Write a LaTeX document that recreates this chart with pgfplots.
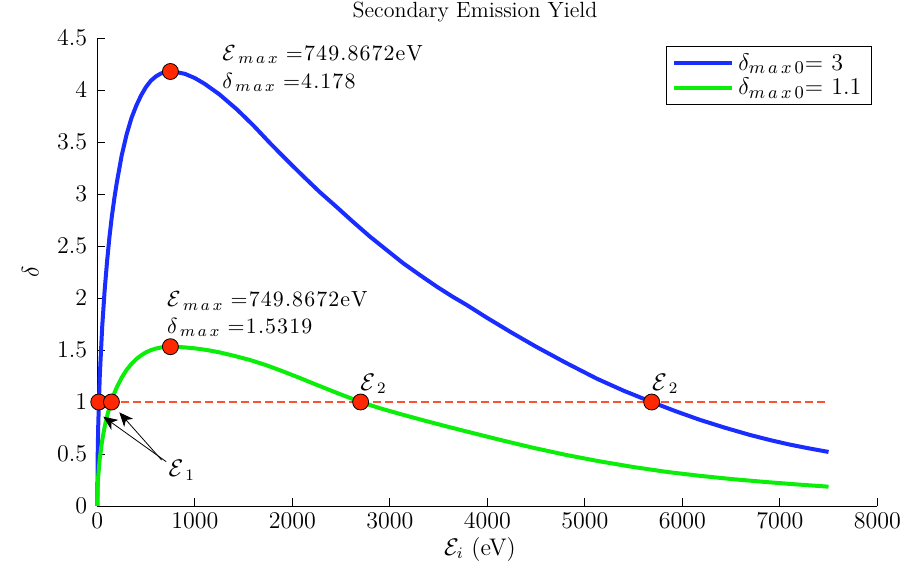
\documentclass[border=0pt]{standalone}
\usepackage{pgfplots}
\pgfplotsset{compat=1.18}
\usetikzlibrary{arrows.meta}
\definecolor{cblue}{RGB}{25,45,255}
\definecolor{cgreen}{RGB}{10,238,10}
\definecolor{cdash}{RGB}{255,80,50}
\definecolor{cmark}{RGB}{255,40,0}
\newcommand{\kk}{\mkern0.9mu}
\newcommand{\Emax}{{\mathcal{E}\mkern2mu}_{m\mkern3mu a\mkern3mu x}\mkern6mu{=}\mkern1mu}
\newcommand{\dmax}{{\delta\mkern2mu}_{m\mkern3mu a\mkern3mu x}\mkern6mu{=}\mkern1mu}
\pgfplotstableread{
E d
0 0
5 0.56
10 0.79
25 1.24
50 1.72
75 2.07
100 2.35
125 2.59
150 2.79
175 2.96
200 3.11
250 3.37
300 3.57
350 3.73
400 3.85
450 3.95
500 4.03
550 4.09
600 4.13
650 4.158
700 4.173
749.87 4.178
800 4.175
900 4.155
1000 4.115
1100 4.06
1250 3.96
1430 3.815
1600 3.66
1771 3.49
1950 3.32
2113 3.17
2280 3.02
2455 2.875
2620 2.735
2797 2.59
2970 2.46
3138 2.334
3310 2.22
3481 2.11
3640 2.015
3789 1.933
4000 1.808
4250 1.667
4500 1.532
4800 1.38
5122 1.225
5400 1.108
5686 1.0
5930 0.912
6182 0.828
6440 0.752
6695 0.683
6900 0.634
7100 0.591
7300 0.554
7500 0.52
}\blue
\pgfplotstableread{
E d
0 0
5 0.206
10 0.290
25 0.454
50 0.631
75 0.760
100 0.863
125 0.949
150 1.022
175 1.086
200 1.141
250 1.234
300 1.308
350 1.366
400 1.413
450 1.449
500 1.478
550 1.499
600 1.514
650 1.524
700 1.530
749.87 1.5319
800 1.531
900 1.525
1000 1.516
1125 1.50
1250 1.478
1400 1.445
1566 1.404
1730 1.355
1900 1.296
2075 1.232
2250 1.165
2475 1.081
2701 1.0
2900 0.94
3105 0.885
3360 0.82
3617 0.757
3870 0.697
4130 0.636
4470 0.56
4814 0.49
5150 0.43
5497 0.375
5840 0.328
6182 0.29
6520 0.258
6866 0.23
7180 0.207
7500 0.186
}\green
\pgfplotstableread{
E d
15 1
145 1
749.8672 4.178
749.8672 1.5319
2701 1
5686 1
}\marks
\begin{document}
\begin{tikzpicture}
\path[use as bounding box] (-48.65pt,-34.5pt) rectangle (405.85pt,253pt);
\begin{axis}[
  scale only axis,
  width=390pt, height=234pt,
  xmin=0, xmax=8000, ymin=0, ymax=4.5,
  xtick={0,1000,...,8000},
  ytick={0,0.5,...,4.5},
  axis x line*=bottom, axis y line*=left,
  axis line style={-, line width=0.5pt},
  tick align=inside,
  major tick length=4pt,
  tick style={black, line width=0.5pt},
  scaled ticks=false,
  /pgf/number format/1000 sep={},
  ticklabel style={font=\fontsize{13}{15}\selectfont},
  yticklabel style={xshift=-1.5pt},
  clip=false,
  every axis title shift=0pt,
  title={Secondary Emission Yield},
  title style={at={(axis description cs:0.4842,1.0556)}, anchor=center, font=\fontsize{11}{13}\selectfont},
  xlabel={$\mathcal{E}_i$ (eV)},
  xlabel style={at={(axis description cs:0.4906,-0.092)}, anchor=center, font=\fontsize{12}{14}\selectfont},
  ylabel={$\delta$},
  ylabel style={at={(axis description cs:-0.086,0.5)}, anchor=center, font=\fontsize{12}{14}\selectfont},
  legend style={at={(rel axis cs:0.993,0.983)}, anchor=north east, draw=black, line width=0.5pt,
    font=\fontsize{12.5}{13}\selectfont, inner xsep=3pt, inner ysep=1.5pt, row sep=-1.5pt},
  legend cell align=left,
  legend image code/.code={\draw[#1] (0pt,0pt) -- (29pt,0pt);},
]
\addplot[cblue, line width=2pt] table[x=E,y=d] {\blue};
\addlegendentry{$\delta_{m\mkern3mu a\mkern3mu x\mkern3mu 0}{=}\ 3$}
\addplot[cgreen, line width=2pt] table[x=E,y=d] {\green};
\addlegendentry{$\delta_{m\mkern3mu a\mkern3mu x\mkern3mu 0}{=}\ 1.1$}
\addplot[cdash, line width=0.6pt, dash pattern=on 3.7pt off 2.3pt, forget plot] coordinates {(0,1) (7500,1)};
\addplot[only marks, mark=*, mark size=4pt, mark options={fill=cmark, draw=black, line width=0.4pt}, forget plot] table[x=E,y=d] {\marks};
\node[anchor=base west, font=\fontsize{11}{13}\selectfont, inner sep=0pt] at (axis cs:1279,4.288) {$\Emax 7\kk4\kk9\kk.\kk8\kk6\kk7\kk2\kk\mathrm{e}\kk\mathrm{V}$};
\node[anchor=base west, font=\fontsize{11}{13}\selectfont, inner sep=0pt] at (axis cs:1279,4.019) {$\dmax 4\kk.\kk1\kk7\kk8$};
\node[anchor=base west, font=\fontsize{11}{13}\selectfont, inner sep=0pt] at (axis cs:712,1.916) {$\Emax 7\kk4\kk9\kk.\kk8\kk6\kk7\kk2\kk\mathrm{e}\kk\mathrm{V}$};
\node[anchor=base west, font=\fontsize{11}{13}\selectfont, inner sep=0pt] at (axis cs:712,1.660) {$\dmax 1\kk.\kk5\kk3\kk1\kk9$};
\node[anchor=base west, font=\fontsize{12}{14}\selectfont, inner sep=0pt] at (axis cs:2694,1.115) {${\mathcal{E}\mkern1.5mu}_{2}$};
\node[anchor=base west, font=\fontsize{12}{14}\selectfont, inner sep=0pt] at (axis cs:5686,1.115) {${\mathcal{E}\mkern1.5mu}_{2}$};
\node[anchor=base west, font=\fontsize{12}{14}\selectfont, inner sep=0pt] at (axis cs:728,0.282) {${\mathcal{E}\mkern1.5mu}_{1}$};
\draw[-{Stealth[length=7pt,width=6pt,inset=2pt]}, line width=0.4pt] (axis cs:707,0.426) -- (axis cs:62,0.859);
\draw[-{Stealth[length=7pt,width=6pt,inset=2pt]}, line width=0.4pt] (axis cs:660,0.442) -- (axis cs:226,0.90);
\end{axis}
\end{tikzpicture}
\end{document}
